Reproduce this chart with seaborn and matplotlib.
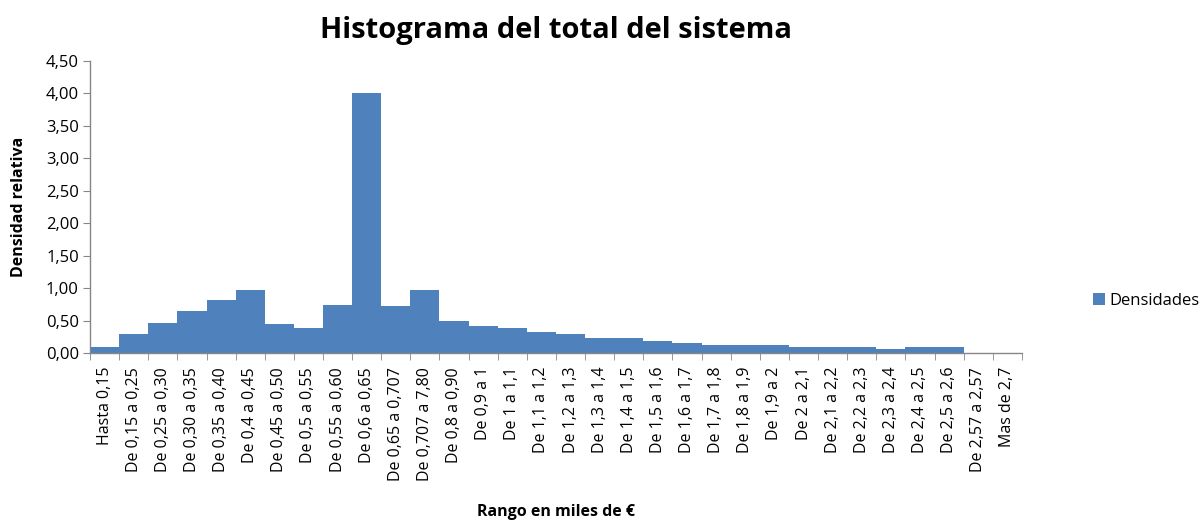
import matplotlib
matplotlib.use("Agg")
import matplotlib.pyplot as plt
import matplotlib.ticker as mticker
from matplotlib.patches import Patch
import seaborn as sns

# Histogram bins (range labels, thousands of euros) and relative densities
categories = [
    "Hasta 0,15", "De 0,15 a 0,25", "De 0,25 a 0,30", "De 0,30 a 0,35",
    "De 0,35 a 0,40", "De 0,4 a 0,45", "De 0,45 a 0,50", "De 0,5 a 0,55",
    "De 0,55 a 0,60", "De 0,6 a 0,65", "De 0,65 a 0,707", "De 0,707 a 7,80",
    "De 0,8 a 0,90", "De 0,9 a 1", "De 1 a 1,1", "De 1,1 a 1,2",
    "De 1,2 a 1,3", "De 1,3 a 1,4", "De 1,4 a 1,5", "De 1,5 a 1,6",
    "De 1,6 a 1,7", "De 1,7 a 1,8", "De 1,8 a 1,9", "De 1,9 a 2",
    "De 2 a 2,1", "De 2,1 a 2,2", "De 2,2 a 2,3", "De 2,3 a 2,4",
    "De 2,4 a 2,5", "De 2,5 a 2,6", "De 2,57 a 2,57", "Mas de 2,7",
]
densities = [
    0.10, 0.30, 0.47, 0.64, 0.82, 0.97, 0.44, 0.39,
    0.74, 4.00, 0.73, 0.97, 0.50, 0.41, 0.38, 0.32,
    0.29, 0.235, 0.235, 0.18, 0.15, 0.12, 0.12, 0.12,
    0.09, 0.09, 0.09, 0.06, 0.09, 0.09, 0.0, 0.0,
]
y_ticks = [0, 0.5, 1.0, 1.5, 2.0, 2.5, 3.0, 3.5, 4.0, 4.5]

BAR_COLOR = "#4F81BD"
AXIS_COLOR = "#868686"
TEXT_COLOR = "#000000"

sns.set_style("white")
plt.rcParams["font.family"] = ["Open Sans", "DejaVu Sans"]
plt.rcParams["text.color"] = TEXT_COLOR
plt.rcParams["xtick.labelcolor"] = TEXT_COLOR
plt.rcParams["ytick.labelcolor"] = TEXT_COLOR

fig = plt.figure(figsize=(12, 5.2), dpi=100)
ax = fig.add_axes([90 / 1200, 1 - 353 / 520, (1022 - 90) / 1200, (353 - 61) / 520])

sns.barplot(x=categories, y=densities, color=BAR_COLOR, width=1.0,
            linewidth=0, saturation=1, ax=ax)

ax.set_xlim(-0.5, len(categories) - 0.5)
ax.set_ylim(0, 4.5)
ax.set_yticks(y_ticks)
ax.yaxis.set_major_formatter(
    mticker.FuncFormatter(lambda v, p: f"{v:.2f}".replace(".", ",")))

# category labels at bar centres, tick marks at bin boundaries
ax.set_xticks(range(len(categories)))
ax.set_xticklabels(categories, rotation=90, fontsize=11.5)
ax.set_xticks([i - 0.5 for i in range(len(categories) + 1)], minor=True)
ax.tick_params(axis="x", which="major", length=0, pad=10)
ax.tick_params(axis="x", which="minor", length=5, color=AXIS_COLOR,
               direction="out", bottom=True)
ax.tick_params(axis="y", length=5, color=AXIS_COLOR, direction="out",
               left=True, labelsize=12, pad=3)

for side in ["top", "right"]:
    ax.spines[side].set_visible(False)
for side in ["left", "bottom"]:
    ax.spines[side].set_color(AXIS_COLOR)
    ax.spines[side].set_linewidth(1)

ax.set_xlabel("")
ax.set_ylabel("")

fig.text(0.4633, 0.942, "Histograma del total del sistema", ha="center",
         va="center", fontsize=21, fontweight="bold")
fig.text(0.016, 1 - 207 / 520, "Densidad relativa", rotation=90, ha="center",
         va="center", fontsize=11.5, fontweight="bold")
fig.text(0.4633, 1 - 512 / 520, "Rango en miles de €", ha="center",
         va="center", fontsize=11.5, fontweight="bold")

handle = Patch(facecolor=BAR_COLOR, edgecolor="none", label="Densidades")
fig.legend(handles=[handle], loc="center left",
           bbox_to_anchor=(1078 / 1200, 1 - 301 / 520), frameon=False,
           fontsize=12, handlelength=0.7, handleheight=0.7,
           handletextpad=0.3)

fig.savefig("out.png", dpi=100)
